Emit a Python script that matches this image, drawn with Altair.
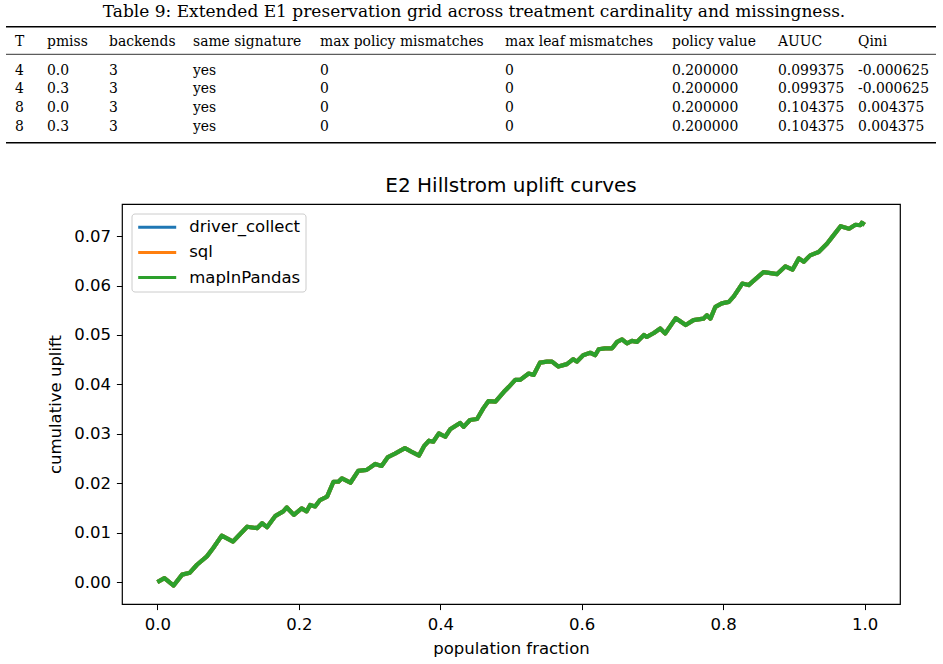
import altair as alt
import pandas as pd

# ---------------- data: uplift curve ----------------
FRACTION = [0.0, 0.010, 0.023, 0.035, 0.046, 0.056, 0.070, 0.079, 0.091, 0.107,
            0.127, 0.141, 0.148, 0.155, 0.167, 0.178, 0.183, 0.193, 0.204, 0.211,
            0.216, 0.223, 0.230, 0.240, 0.249, 0.256, 0.261, 0.273, 0.284, 0.296,
            0.308, 0.317, 0.326, 0.336, 0.350, 0.359, 0.370, 0.377, 0.384, 0.390,
            0.398, 0.407, 0.414, 0.428, 0.433, 0.442, 0.452, 0.461, 0.468, 0.478,
            0.490, 0.497, 0.506, 0.513, 0.525, 0.532, 0.541, 0.551, 0.558, 0.567,
            0.579, 0.588, 0.593, 0.602, 0.612, 0.619, 0.624, 0.633, 0.643, 0.650,
            0.657, 0.664, 0.671, 0.678, 0.688, 0.692, 0.702, 0.711, 0.718, 0.733,
            0.747, 0.758, 0.772, 0.777, 0.782, 0.789, 0.798, 0.808, 0.815, 0.827,
            0.836, 0.848, 0.857, 0.867, 0.876, 0.888, 0.898, 0.907, 0.914, 0.923,
            0.935, 0.947, 0.954, 0.966, 0.978, 0.987, 0.994, 0.996, 1.0]
UPLIFT = [0.0, 0.0008, -0.0007, 0.0015, 0.0019, 0.0035, 0.0052, 0.0069, 0.0094, 0.0082,
          0.0112, 0.0109, 0.0119, 0.0111, 0.0134, 0.0143, 0.0151, 0.0136, 0.0149, 0.0143,
          0.0156, 0.0153, 0.0166, 0.0173, 0.0203, 0.0203, 0.0210, 0.0201, 0.0225, 0.0227,
          0.0239, 0.0235, 0.0253, 0.0260, 0.0271, 0.0264, 0.0256, 0.0275, 0.0286, 0.0284,
          0.0301, 0.0294, 0.0309, 0.0322, 0.0314, 0.0328, 0.0330, 0.0352, 0.0366, 0.0365,
          0.0385, 0.0395, 0.0409, 0.0409, 0.0422, 0.0419, 0.0444, 0.0446, 0.0446, 0.0436,
          0.0441, 0.0451, 0.0446, 0.0459, 0.0464, 0.0459, 0.0471, 0.0473, 0.0473, 0.0486,
          0.0491, 0.0483, 0.0488, 0.0486, 0.0500, 0.0496, 0.0504, 0.0513, 0.0503, 0.0534,
          0.0520, 0.0530, 0.0533, 0.0540, 0.0533, 0.0557, 0.0564, 0.0567, 0.0578, 0.0604,
          0.0601, 0.0616, 0.0627, 0.0625, 0.0623, 0.0639, 0.0632, 0.0655, 0.0648, 0.0661,
          0.0668, 0.0685, 0.0698, 0.0720, 0.0715, 0.0723, 0.0722, 0.0727, 0.0723]
BACKENDS = ["driver_collect", "sql", "mapInPandas"]
COLORS = ["#1f77b4", "#ff7f0e", "#2ca02c"]

X_TICKS = [0.0, 0.2, 0.4, 0.6, 0.8, 1.0]
Y_TICKS = [0.00, 0.01, 0.02, 0.03, 0.04, 0.05, 0.06, 0.07]
CHART_TITLE = "E2 Hillstrom uplift curves"

# ---------------- data: table ----------------
CAPTION = "Table 9: Extended E1 preservation grid across treatment cardinality and missingness."
COLUMNS = ["T", "pmiss", "backends", "same signature", "max policy mismatches",
           "max leaf mismatches", "policy value", "AUUC", "Qini"]
COL_T = ["4", "4", "8", "8"]
COL_PMISS = ["0.0", "0.3", "0.0", "0.3"]
COL_BACKENDS = ["3", "3", "3", "3"]
COL_SAME = ["yes", "yes", "yes", "yes"]
COL_MAX_POLICY = ["0", "0", "0", "0"]
COL_MAX_LEAF = ["0", "0", "0", "0"]
COL_POLICY_VALUE = ["0.200000", "0.200000", "0.200000", "0.200000"]
COL_AUUC = ["0.099375", "0.099375", "0.104375", "0.104375"]
COL_QINI = ["-0.000625", "-0.000625", "0.004375", "0.004375"]
TABLE_VALUES = [COL_T, COL_PMISS, COL_BACKENDS, COL_SAME, COL_MAX_POLICY,
                COL_MAX_LEAF, COL_POLICY_VALUE, COL_AUUC, COL_QINI]

# ---------------- layout (page pixels) ----------------
PAGE_W, PAGE_H = 943, 664
PLOT_LEFT, PLOT_TOP, PLOT_W, PLOT_H = 122, 204, 778, 400
COL_X = [15, 47, 109, 193, 320, 505, 672, 778, 858]
HEADER_Y = 42
ROW_Y = [70.5, 89, 108, 126.5]
CAPTION_XY = (474, 12)
TITLE_XY = (511, 186)
RULE_X = (6, 936)
RULE_Y = [26.7, 54.3, 142.7]
RULE_W = [1.4, 0.8, 1.4]

curve = pd.DataFrame([
    {"fraction": f, "uplift": u, "backend": b}
    for b in BACKENDS for f, u in zip(FRACTION, UPLIFT)
])

cells = []
for j, name in enumerate(COLUMNS):
    cells.append({"px": COL_X[j], "py": HEADER_Y, "text": name})
    for i, v in enumerate(TABLE_VALUES[j]):
        cells.append({"px": COL_X[j], "py": ROW_Y[i], "text": v})
cells = pd.DataFrame(cells)
rules = pd.DataFrame({"py": RULE_Y, "x1": RULE_X[0], "x2": RULE_X[1], "w": RULE_W})
caption = pd.DataFrame({"px": [CAPTION_XY[0]], "py": [CAPTION_XY[1]], "text": [CAPTION]})
title_df = pd.DataFrame({"px": [TITLE_XY[0]], "py": [TITLE_XY[1]], "text": [CHART_TITLE]})

# ---------------- curve chart ----------------
x_enc = alt.X("fraction:Q",
              scale=alt.Scale(domain=[-0.05, 1.05], nice=False, zero=False),
              axis=alt.Axis(values=X_TICKS, format=".1f", title="population fraction"))
y_enc = alt.Y("uplift:Q",
              scale=alt.Scale(domain=[-0.00444, 0.0765], nice=False, zero=False),
              axis=alt.Axis(values=Y_TICKS, format=".2f", title="cumulative uplift"))
color_enc = alt.Color("backend:N",
                      scale=alt.Scale(domain=BACKENDS, range=COLORS),
                      legend=alt.Legend(title=None, orient="none", legendX=9.5, legendY=9.5,
                                        symbolType="stroke", symbolSize=1444,
                                        symbolStrokeWidth=3, labelFontSize=16.5,
                                        labelFont="DejaVu Sans", labelColor="#000000",
                                        labelOffset=11.5, padding=5.2, clipHeight=17,
                                        rowPadding=8.2, strokeColor="#cccccc",
                                        fillColor="rgba(255,255,255,0.8)",
                                        cornerRadius=3))

line_layers = [
    alt.Chart(curve).transform_filter(alt.datum.backend == b)
    .mark_line(strokeWidth=4.2, strokeJoin="round")
    .encode(x=x_enc, y=y_enc, color=color_enc)
    for b in BACKENDS
]
curve_chart = alt.layer(*line_layers)

# ---------------- table and titles (page-pixel scales) ----------------
page_x = dict(scale=alt.Scale(domain=[0, PAGE_W], range=[-PLOT_LEFT, PAGE_W - PLOT_LEFT],
                              nice=False, zero=False), axis=None)
page_y = dict(scale=alt.Scale(domain=[0, PAGE_H], range=[-PLOT_TOP, PAGE_H - PLOT_TOP],
                              nice=False, zero=False), axis=None)

caption_layer = alt.Chart(caption).mark_text(
    align="center", baseline="middle", font="DejaVu Serif", fontSize=17, color="#000000"
).encode(x=alt.X("px:Q", **page_x), y=alt.Y("py:Q", **page_y), text="text:N")

title_layer = alt.Chart(title_df).mark_text(
    align="center", baseline="middle", font="DejaVu Sans", fontSize=20, color="#000000"
).encode(x=alt.X("px:Q", **page_x), y=alt.Y("py:Q", **page_y), text="text:N")

rule_layer = alt.Chart(rules).mark_rule(color="#000000").encode(
    x=alt.X("x1:Q", **page_x), x2="x2:Q", y=alt.Y("py:Q", **page_y),
    strokeWidth=alt.StrokeWidth("w:Q", scale=None)
)

cell_layer = alt.Chart(cells).mark_text(
    align="left", baseline="middle", font="DejaVu Serif", fontSize=13.9, color="#000000"
).encode(x=alt.X("px:Q", **page_x), y=alt.Y("py:Q", **page_y), text="text:N")

table_chart = alt.layer(caption_layer, title_layer, rule_layer, cell_layer)

chart = alt.layer(curve_chart, table_chart).resolve_scale(
    x="independent", y="independent"
).properties(
    width=PLOT_W, height=PLOT_H,
    autosize=alt.AutoSizeParams(type="none"),
    padding={"left": PLOT_LEFT, "top": PLOT_TOP,
             "right": PAGE_W - PLOT_LEFT - PLOT_W, "bottom": PAGE_H - PLOT_TOP - PLOT_H},
    background="#ffffff",
).configure_view(
    stroke="#000000", strokeWidth=1.2
).configure_axis(
    grid=False, domain=False, ticks=True, tickColor="#000000", tickSize=5.6, tickWidth=1,
    labelFont="DejaVu Sans", labelFontSize=16.5, labelColor="#000000",
    titleFont="DejaVu Sans", titleFontSize=16.5, titleFontWeight="normal",
    titleColor="#000000"
).configure_axisY(
    labelPadding=6, titlePadding=10
).configure_axisX(
    labelPadding=7, titlePadding=7
)

chart.save("out.html", embed_options={"renderer": "svg", "actions": False})
